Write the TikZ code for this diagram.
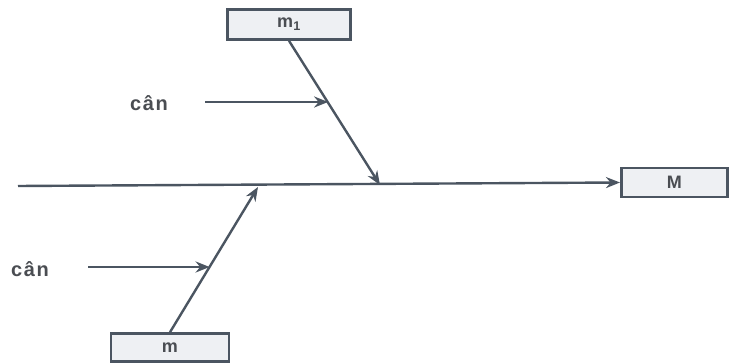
\documentclass[tikz,border=0pt]{standalone}
\usepackage{fontspec}
\setmainfont{Liberation Sans}
\usetikzlibrary{arrows.meta}
\definecolor{ink}{HTML}{4B5561}
\definecolor{boxfill}{HTML}{EEF0F3}
\definecolor{txt}{HTML}{4A4D52}
\begin{document}
\begin{tikzpicture}[x=1pt,y=-1pt,
  mass/.style={draw=ink,line width=2.6pt,fill=boxfill,inner sep=0pt,
    font=\fontsize{18}{18}\selectfont\bfseries,text=txt},
  link/.style={draw=ink,line width=2.4pt},
  flow/.style={link,-{Stealth[length=14pt,width=11pt]}},
  lbl/.style={font=\fontsize{20}{20}\selectfont\bfseries\addfontfeature{LetterSpace=8},text=txt,inner sep=0pt}]
\useasboundingbox[fill=white] (0,0) rectangle (732,363);
% mass boxes
\node[mass,minimum width=123pt,minimum height=30pt] (m1) at (289,24.5) {m\textsubscript{1}};
\node[mass,minimum width=106pt,minimum height=29pt,anchor=west] (M) at (620,182.5) {M};
\node[mass,minimum width=118pt,minimum height=28pt] (m) at (170,347.5) {m};
% main line and branch end points
\coordinate (start) at (18,186);
\coordinate (j1) at (380,185);
\coordinate (j2) at (258,187);
\draw[flow] (start) -- (M.west);
\draw[flow] (m1.south) -- coordinate[pos=0.43] (h1) (j1);
\draw[flow] (m.north) -- coordinate[pos=0.45] (h2) (j2);
% side inputs
\node[lbl] (c1) at (149,103) {cân};
\node[lbl] (c2) at (30,269) {cân};
\coordinate (s1) at (205,102);
\coordinate (s2) at (88,267);
\draw[flow] (s1) -- (s1 -| h1);
\draw[flow] (s2) -- (s2 -| h2);
\end{tikzpicture}
\end{document}
